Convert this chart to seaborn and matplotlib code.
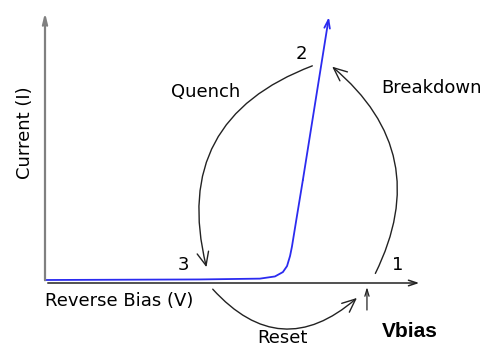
import matplotlib
matplotlib.use("Agg")
import matplotlib.pyplot as plt
import seaborn as sns
import pandas as pd
from matplotlib.patches import FancyArrowPatch

# ==================== data ====================
# I-V characteristic of the diode (reverse bias vs current, arbitrary units)
bias = [0.0, 4.11, 5.70, 6.10, 6.31, 6.42, 6.50, 6.55, 6.68, 6.84, 7.53]
current = [0.11, 0.13, 0.16, 0.24, 0.40, 0.62, 0.99, 1.33, 2.43, 3.77, 9.74]

# operating points 1, 2, 3 on the cycle
point_labels = ["1", "2", "3"]
point_x = [9.36, 6.79, 3.66]
point_y = [0.66, 8.39, 0.66]

v_bias = 8.54

# ==================== figure ====================
sns.set_style("white")
plt.rcParams['font.family'] = ['DejaVu Sans']
plt.rcParams['text.color'] = 'black'

fig = plt.figure(figsize=(4.94, 3.47), dpi=100)
ax = fig.add_axes([0, 0, 1, 1])
ax.set_xlim(-45 / 37.7, (494 - 45) / 37.7)
ax.set_ylim(-(347 - 283) / 27.3, 283 / 27.3)
ax.axis('off')

# axes with arrows
ax.annotate("", xy=(10, 0), xytext=(0, 0),
            arrowprops=dict(arrowstyle="->,head_length=0.6,head_width=0.2", color="#222222", lw=1.1))
ax.annotate("", xy=(0, 10), xytext=(0, 0),
            arrowprops=dict(arrowstyle="->,head_length=0.6,head_width=0.15", color="#808080", lw=1.6))

# I-V curve
df = pd.DataFrame({"bias": bias, "current": current})
sns.lineplot(data=df.iloc[:-1], x="bias", y="current", color="#2b2bf0", lw=1.3, ax=ax)
ax.annotate("", xy=(bias[-1], current[-1]), xytext=(bias[-2], current[-2]),
            arrowprops=dict(arrowstyle="->,head_length=0.6,head_width=0.2", color="#2b2bf0", lw=1.3,
                            shrinkA=0, shrinkB=0))


def curved(start, end, rad):
    arr = FancyArrowPatch(start, end, connectionstyle=f"arc3,rad={rad}",
                          arrowstyle="->,head_length=0.8,head_width=0.35",
                          color="#222222", lw=1.0, mutation_scale=12)
    ax.add_patch(arr)


curved((7.16, 7.99), (4.30, 0.48), 0.45)   # quench
curved((8.73, 0.26), (7.56, 7.99), 0.40)   # breakdown
curved((4.40, -0.15), (8.33, -0.48), 0.50)  # reset

ax.annotate("", xy=(v_bias, -0.15), xytext=(v_bias, -0.99),
            arrowprops=dict(arrowstyle="->,head_length=0.5,head_width=0.15", color="#222222", lw=0.9,
                            shrinkA=0, shrinkB=0))

# labels
fs = 13
for lab, px, py in zip(point_labels, point_x, point_y):
    ax.text(px, py, lab, fontsize=fs, ha="center", va="center")
ax.text(-0.53, 5.49, "Current (I)", fontsize=fs, rotation=90, ha="center", va="center")
ax.text(4.27, 7.0, "Quench", fontsize=fs, ha="center", va="center")
ax.text(10.24, 7.14, "Breakdown", fontsize=fs, ha="center", va="center")
ax.text(0.0, -0.66, "Reverse Bias (V)", fontsize=fs, ha="left", va="center")
ax.text(6.29, -2.01, "Reset", fontsize=fs, ha="center", va="center")
ax.text(9.68, -1.76, "Vbias", fontsize=15, fontweight="bold", family=["Liberation Sans"],
        ha="center", va="center")

fig.savefig("out.png", dpi=100)
